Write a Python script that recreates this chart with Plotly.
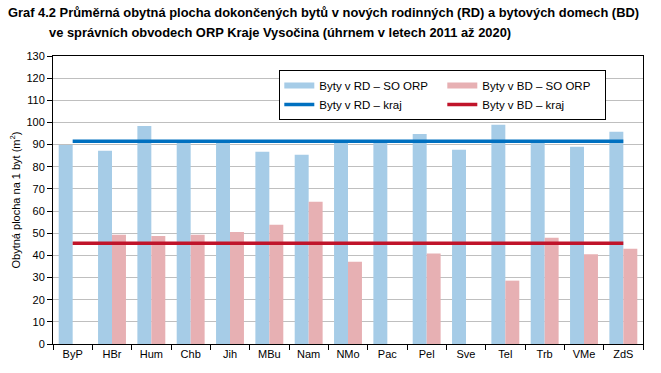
import plotly.graph_objects as go

categories = ["ByP", "HBr", "Hum", "Chb", "Jih", "MBu", "Nam", "NMo",
              "Pac", "Pel", "Sve", "Tel", "Trb", "VMe", "ZdS"]
rd_orp = [89.8, 87.2, 98.4, 91.2, 91.3, 86.8, 85.4, 91.6,
          91.6, 94.8, 87.7, 99.0, 91.8, 89.0, 95.8]
bd_orp = [None, 49.3, 48.8, 49.3, 50.6, 53.8, 64.2, 37.1,
          None, 40.9, None, 28.6, 48.0, 40.5, 43.0]
rd_kraj = 91.5
bd_kraj = 45.5

names = ["Byty v RD – SO ORP", "Byty v BD – SO ORP", "Byty v RD – kraj", "Byty v BD – kraj"]

c_rd_bar = "#A6CCE7"
c_bd_bar = "#E7B0B3"
c_rd_line = "#0070C0"
c_bd_line = "#C0142A"

FONT = "Liberation Sans, Arial, sans-serif"

fig = go.Figure()
fig.add_trace(go.Bar(x=categories, y=rd_orp, marker=dict(color=c_rd_bar, line=dict(width=0)),
                     showlegend=False, name=names[0]))
fig.add_trace(go.Bar(x=categories, y=bd_orp, marker=dict(color=c_bd_bar, line=dict(width=0)),
                     showlegend=False, name=names[1]))
fig.add_trace(go.Scatter(x=categories, y=[rd_kraj] * len(categories), mode="lines",
                         line=dict(color=c_rd_line, width=3.5), showlegend=False))
fig.add_trace(go.Scatter(x=categories, y=[bd_kraj] * len(categories), mode="lines",
                         line=dict(color=c_bd_line, width=3.5), showlegend=False))

# legend entries
fig.add_trace(go.Scatter(x=[None], y=[None], mode="lines", name=names[0], legendgroup="rd",
                         line=dict(color=c_rd_bar, width=6)))
fig.add_trace(go.Scatter(x=[None], y=[None], mode="lines", name=names[2], legendgroup="rd",
                         line=dict(color=c_rd_line, width=3.5)))
fig.add_trace(go.Scatter(x=[None], y=[None], mode="lines", name=names[1], legendgroup="bd",
                         line=dict(color=c_bd_bar, width=6)))
fig.add_trace(go.Scatter(x=[None], y=[None], mode="lines", name=names[3], legendgroup="bd",
                         line=dict(color=c_bd_line, width=3.5)))

L, R, T, B = 52.5, 18, 56, 29
W, H = 661, 373
pw, ph = W - L - R, H - T - B

def px(x):
    return (x - L) / pw

def py(y):
    return (H - B - y) / ph

TFONT = "Liberation Sans, Arial, sans-serif"

fig.update_layout(
    width=W, height=H,
    margin=dict(l=L, r=R, t=T, b=B, pad=0, autoexpand=False),
    paper_bgcolor="white", plot_bgcolor="white",
    barmode="group", bargap=0.29, bargroupgap=0,
    font=dict(family=FONT, size=11, color="black"),
    showlegend=True,
    legend=dict(orientation="h", traceorder="grouped", entrywidth=118, entrywidthmode="pixels",
                x=px(279), y=py(70), xanchor="left", yanchor="top",
                bgcolor="white", bordercolor="black", borderwidth=1,
                font=dict(family=FONT, size=11.5), itemwidth=30),
    xaxis=dict(showline=True, linecolor="black", linewidth=1, mirror=True, automargin=False,
               ticks="outside", ticklen=5, tickcolor="black", tickson="boundaries",
               showgrid=False, tickfont=dict(size=11)),
    yaxis=dict(range=[0, 130], dtick=10, showline=True, linecolor="black", linewidth=1,
               mirror=True, ticks="outside", ticklen=5, tickcolor="black", automargin=False,
               showgrid=True, gridcolor="#BFBFBF", gridwidth=1, zeroline=False,
               tickfont=dict(size=11),
               title=dict(text="Obytná plocha na 1 byt (m<sup>2</sup>)", font=dict(size=11), standoff=3)),
    annotations=[
        dict(text="<b>Graf 4.2 Průměrná obytná plocha dokončených bytů v nových rodinných (RD) a bytových domech (BD)</b>",
             xref="paper", yref="paper", x=px(5), y=py(12), xanchor="left", yanchor="middle",
             showarrow=False, font=dict(family=TFONT, size=12.9)),
        dict(text="<b>ve správních obvodech ORP Kraje Vysočina (úhrnem v letech 2011 až 2020)</b>",
             xref="paper", yref="paper", x=px(46), y=py(32), xanchor="left", yanchor="middle",
             showarrow=False, font=dict(family=TFONT, size=12.9)),
    ],
)

fig.write_html("out.html", config={"displayModeBar": False},
               post_script="document.body.style.margin='0';document.body.style.overflow='hidden';")
